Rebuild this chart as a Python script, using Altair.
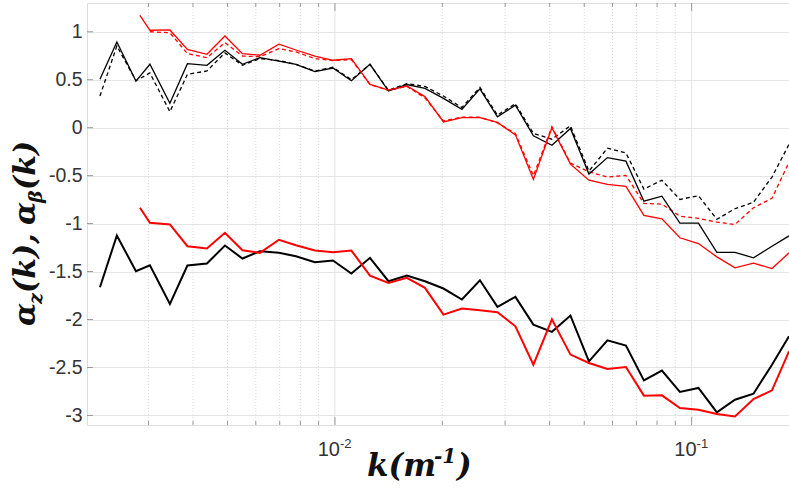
import altair as alt
import pandas as pd

# wavenumber bins (m^-1)
k_grid = [0.002194, 0.002447, 0.002768, 0.003029, 0.003446, 0.003859, 0.004377,
          0.004916, 0.005505, 0.006162, 0.006966, 0.007776, 0.008787, 0.009872,
          0.01112, 0.01254, 0.01413, 0.01591, 0.01788, 0.02015, 0.02270, 0.02550,
          0.02855, 0.03206, 0.03601, 0.04058, 0.04574, 0.05154, 0.05807, 0.06544,
          0.07349, 0.08254, 0.09272, 0.1045, 0.1177, 0.1323, 0.1491, 0.1680, 0.1875]
k_red = [0.00284] + k_grid[3:]
k_red_dashed = k_grid[3:]

# upper pair of curves
alpha_z_black = [0.504, 0.894, 0.486, 0.661, 0.254, 0.668, 0.650, 0.807, 0.661, 0.731,
                 0.695, 0.661, 0.585, 0.622, 0.490, 0.661, 0.382, 0.450, 0.410, 0.306,
                 0.191, 0.405, 0.113, 0.234, -0.084, -0.183, -0.008, -0.484, -0.312, -0.349,
                 -0.766, -0.714, -0.995, -0.995, -1.300, -1.300, -1.357, -1.236, -1.128]
alpha_z_black_dashed = [0.330, 0.852, 0.490, 0.570, 0.167, 0.556, 0.591, 0.780, 0.650, 0.720,
                        0.700, 0.660, 0.590, 0.630, 0.500, 0.660, 0.390, 0.460, 0.430, 0.330,
                        0.210, 0.420, 0.130, 0.250, -0.060, -0.120, 0.020, -0.453, -0.214, -0.264,
                        -0.640, -0.548, -0.748, -0.710, -0.955, -0.845, -0.777, -0.515, -0.174]
alpha_z_red = [1.172, 1.016, 1.019, 0.817, 0.765, 0.956, 0.772, 0.755, 0.870, 0.810,
               0.747, 0.703, 0.720, 0.452, 0.392, 0.434, 0.324, 0.060, 0.104, 0.104,
               0.055, -0.075, -0.540, 0.000, -0.380, -0.547, -0.592, -0.613, -0.915, -0.950,
               -1.148, -1.208, -1.347, -1.461, -1.413, -1.469, -1.305]
alpha_z_red_dashed = [1.000, 0.990, 0.772, 0.730, 0.887, 0.747, 0.740, 0.825, 0.790, 0.720,
                      0.700, 0.710, 0.450, 0.390, 0.430, 0.310, 0.070, 0.110, 0.110, 0.050,
                      -0.060, -0.500, 0.010, -0.370, -0.460, -0.515, -0.497, -0.790, -0.797, -0.923,
                      -0.945, -0.985, -1.009, -0.835, -0.736, -0.360]

# lower pair of curves
alpha_b_black = [-1.664, -1.124, -1.497, -1.434, -1.837, -1.437, -1.416, -1.229, -1.364, -1.288,
                 -1.305, -1.340, -1.403, -1.385, -1.521, -1.357, -1.601, -1.541, -1.601, -1.677,
                 -1.792, -1.591, -1.868, -1.764, -2.053, -2.129, -1.959, -2.436, -2.217, -2.272,
                 -2.635, -2.533, -2.756, -2.714, -2.969, -2.836, -2.774, -2.471, -2.175]
alpha_b_red = [-0.835, -0.992, -1.009, -1.236, -1.260, -1.096, -1.278, -1.305, -1.169, -1.225,
               -1.281, -1.299, -1.281, -1.542, -1.618, -1.566, -1.670, -1.949, -1.886, -1.904,
               -1.925, -2.071, -2.471, -1.998, -2.366, -2.453, -2.516, -2.495, -2.794, -2.791,
               -2.923, -2.940, -2.985, -3.010, -2.829, -2.739, -2.332]

y_ticks = [-3, -2.5, -2, -1.5, -1, -0.5, 0, 0.5, 1]
x_major = [0.01, 0.1]
x_minor = [0.003, 0.004, 0.005, 0.006, 0.007, 0.008, 0.009,
           0.02, 0.03, 0.04, 0.05, 0.06, 0.07, 0.08, 0.09]
decade_base = ["10", "10"]
decade_exp = ["-2", "-1"]

W, H = 702, 422
AXIS_GREY = "#9a9a9a"
LABEL_COL = "#333333"

xscale = alt.Scale(type="log", domain=[0.002018, 0.1875], nice=False, zero=False)
yscale = alt.Scale(domain=[-3.1, 1.3], nice=False, zero=False)
xaxis = alt.Axis(labels=False, ticks=False, domain=False, grid=False, title=None)
yaxis = alt.Axis(values=y_ticks, labelExpr="datum.value + ''", ticks=False, domain=False,
                 grid=True, gridColor="#e4e4e4", gridWidth=1, title=None,
                 labelFont="Liberation Sans", labelFontSize=19.5, labelColor=LABEL_COL,
                 labelPadding=5)


def X():
    return alt.X("k:Q", scale=xscale, axis=xaxis)


def Y():
    return alt.Y("v:Q", scale=yscale, axis=yaxis)


def series(ks, vs, color, width, dash=None):
    df = pd.DataFrame({"k": ks, "v": vs})
    kw = dict(color=color, strokeWidth=width, clip=True)
    if dash:
        kw["strokeDash"] = dash
    return alt.Chart(df).mark_line(**kw).encode(x=X(), y=Y())


one = pd.DataFrame({"_": [0]})
major_df = pd.DataFrame({"k": x_major})
minor_df = pd.DataFrame({"k": x_minor})
ytick_df = pd.DataFrame({"v": y_ticks})

# background grid
grid_major = alt.Chart(major_df).mark_rule(color="#e4e4e4", strokeWidth=1).encode(x=X())
grid_minor = alt.Chart(minor_df).mark_rule(color="#dcdcdc", strokeWidth=1,
                                           strokeDash=[1, 2]).encode(x=X())
base = alt.Chart(ytick_df).mark_rule(opacity=0).encode(y=Y())

# inward tick marks
ytk = alt.Chart(ytick_df).mark_rule(color=AXIS_GREY).encode(
    y=Y(), x=alt.value(0), x2=alt.value(6))
xb_major = alt.Chart(major_df).mark_rule(color=AXIS_GREY).encode(
    x=X(), y=alt.value(H), y2=alt.value(H - 8))
xb_minor = alt.Chart(minor_df).mark_rule(color=AXIS_GREY).encode(
    x=X(), y=alt.value(H), y2=alt.value(H - 4))
xt_major = alt.Chart(major_df).mark_rule(color=AXIS_GREY).encode(
    x=X(), y=alt.value(0), y2=alt.value(8))
xt_minor = alt.Chart(minor_df).mark_rule(color=AXIS_GREY).encode(
    x=X(), y=alt.value(0), y2=alt.value(4))

# decade labels 10^-2, 10^-1
dec_df = pd.DataFrame({"k": x_major, "base": decade_base, "exp": decade_exp})
dec_base = alt.Chart(dec_df).mark_text(
    align="right", baseline="alphabetic", font="Liberation Sans", fontSize=20,
    color=LABEL_COL, dx=5).encode(x=X(), y=alt.value(H + 31), text="base:N")
dec_exp = alt.Chart(dec_df).mark_text(
    align="left", baseline="alphabetic", font="Liberation Sans", fontSize=13,
    color=LABEL_COL, dx=5).encode(x=X(), y=alt.value(H + 23), text="exp:N")

# axis titles in bold italic math style
TF = "DejaVu Serif"


def piece(txt, x, y, size, angle=0):
    kw = dict(text=txt, font=TF, fontSize=size, fontStyle="italic", fontWeight="bold",
              align="left", baseline="alphabetic", color="#111111")
    if angle:
        kw["angle"] = angle
    return alt.Chart(one).mark_text(**kw).encode(x=alt.value(x), y=alt.value(y))


xt = [
    piece("k(m", 280, H + 51, 31),
    piece("-1", 347, H + 38, 20),
    piece(")", 370, H + 51, 31),
]
yt = [
    piece("α", -52, 323, 30, 270),
    piece("z", -45, 301, 19, 270),
    piece("(k),", -52, 290, 30, 270),
    piece("α", -52, 222, 30, 270),
    piece("β", -45, 200, 19, 270),
    piece("(k)", -52, 187, 30, 270),
]

lines = [
    series(k_grid, alpha_z_black_dashed, "#000000", 1.3, [4, 3]),
    series(k_red_dashed, alpha_z_red_dashed, "#ff0000", 1.3, [4, 3]),
    series(k_grid, alpha_z_black, "#000000", 1.3),
    series(k_red, alpha_z_red, "#ff0000", 1.3),
    series(k_grid, alpha_b_black, "#000000", 2.0),
    series(k_red, alpha_b_red, "#ff0000", 2.0),
]

chart = alt.layer(
    base, grid_minor, grid_major, *lines,
    ytk, xb_major, xb_minor, xt_major, xt_minor,
    dec_base, dec_exp, *xt, *yt,
).properties(
    width=W, height=H,
    autosize=alt.AutoSizeParams(type="none"),
    padding={"left": 87, "top": 3, "right": 0, "bottom": 65},
).configure_view(stroke=AXIS_GREY, strokeWidth=1).configure(background="white")

chart.save("out.html", embed_options={"renderer": "svg", "actions": False})
